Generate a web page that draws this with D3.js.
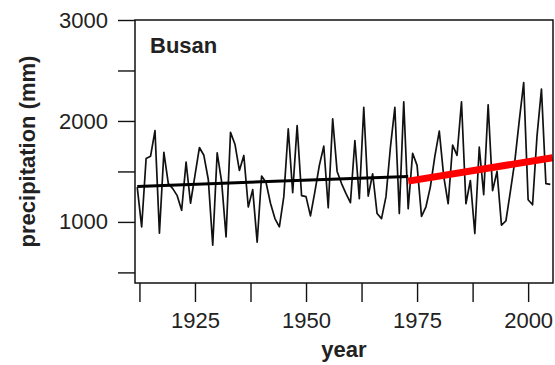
<!DOCTYPE html>
<html>
<head>
<meta charset="utf-8">
<script src="https://cdn.jsdelivr.net/npm/d3@7"></script>
<style>
  body { margin: 0; background: #fff; }
  svg { display: block; }
  text { font-family: "Liberation Sans", Arial, sans-serif; fill: #222; }
</style>
</head>
<body>
<svg width="555" height="365"></svg>
<script>
// annual precipitation, Busan
const years = d3.range(1912, 2006);
const precip = [
  1345, 950, 1628, 1650, 1904, 889, 1690, 1380, 1330, 1260,
  1115, 1592, 1185, 1460, 1737, 1660, 1420, 770, 1685, 1400,
  852, 1887, 1770, 1510, 1658, 1148, 1320, 800, 1455, 1390,
  1185, 1033, 951, 1250, 1921, 1290, 1954, 1260, 1250, 1060,
  1300, 1560, 1750, 1140, 2020, 1500, 1380, 1280, 1190, 1806,
  1230, 2134, 1255, 1477, 1083, 1033, 1250, 1740, 2134, 1083,
  2190, 1130, 1680, 1560, 1055, 1150, 1350, 1650, 1900, 1450,
  1180, 1760, 1660, 2190, 1180, 1410, 885, 1740, 1270, 2160,
  1310, 1500, 967, 1010, 1300, 1600, 2000, 2380, 1220, 1170,
  1850, 2315, 1379, 1372
];

// linear trends: before and after 1973
const trendEarlyYears = [1912, 1973];
const trendEarlyValues = [1352, 1450];
const trendLateYears = [1973, 2005.5];
const trendLateValues = [1404, 1636];

const xTicks = [1912.5, 1925, 1937.5, 1950, 1962.5, 1975, 1987.5, 2000];
const xLabels = [1925, 1950, 1975, 2000];
const yTicks = [500, 1000, 1500, 2000, 2500, 3000];
const yLabels = [1000, 2000, 3000];

const box = {left: 135, right: 553, top: 20, bottom: 283};

const svg = d3.select("svg");

const x = d3.scaleLinear().domain([1911.5, 2005.6]).range([box.left, box.right]);
const y = d3.scaleLinear().domain([395, 3000]).range([box.bottom, box.top]);

// axes
const xAxis = svg.append("g")
    .attr("transform", "translate(0," + box.bottom + ")")
    .call(d3.axisBottom(x).tickValues(xTicks).tickSize(19).tickPadding(10)
      .tickFormat(d => xLabels.includes(d) ? d : ""));
const yAxis = svg.append("g")
    .attr("transform", "translate(" + box.left + ",0)")
    .call(d3.axisLeft(y).tickValues(yTicks).tickSize(17).tickPadding(10)
      .tickFormat(d => yLabels.includes(d) ? d : ""));

[xAxis, yAxis].forEach(g => {
  g.select(".domain").remove();
  g.selectAll(".tick line").attr("stroke", "#111").attr("stroke-width", 1.4);
  g.selectAll(".tick text").attr("font-size", 22).attr("fill", "#222")
    .attr("font-family", "'Liberation Sans', Arial, sans-serif");
});

// data line
const line = d3.line()
    .x((d, i) => x(years[i]))
    .y(d => y(d));
svg.append("path")
    .datum(precip)
    .attr("d", line)
    .attr("fill", "none")
    .attr("stroke", "#111")
    .attr("stroke-width", 1.7)
    .attr("stroke-linejoin", "round");

// trend lines
const trendLine = (ys) => d3.line().x((d, i) => x(ys[i])).y(d => y(d));
svg.append("path")
    .datum(trendEarlyValues)
    .attr("d", trendLine(trendEarlyYears))
    .attr("fill", "none")
    .attr("stroke", "#000")
    .attr("stroke-width", 3);
svg.append("path")
    .datum(trendLateValues)
    .attr("d", trendLine(trendLateYears))
    .attr("fill", "none")
    .attr("stroke", "#ff0000")
    .attr("stroke-width", 7);

// frame
svg.append("rect")
    .attr("x", box.left)
    .attr("y", box.top)
    .attr("width", box.right - box.left)
    .attr("height", box.bottom - box.top)
    .attr("fill", "none")
    .attr("stroke", "#111")
    .attr("stroke-width", 1.5);

// labels
svg.append("text")
    .attr("x", 150).attr("y", 52.5)
    .attr("font-size", 22).attr("font-weight", "bold")
    .text("Busan");
svg.append("text")
    .attr("x", (box.left + box.right) / 2).attr("y", 357)
    .attr("text-anchor", "middle")
    .attr("font-size", 22).attr("font-weight", "bold")
    .text("year");
svg.append("text")
    .attr("transform", "translate(35," + ((box.top + box.bottom) / 2) + ") rotate(-90)")
    .attr("text-anchor", "middle")
    .attr("font-size", 22).attr("font-weight", "bold")
    .text("precipitation (mm)");
</script>
</body>
</html>
